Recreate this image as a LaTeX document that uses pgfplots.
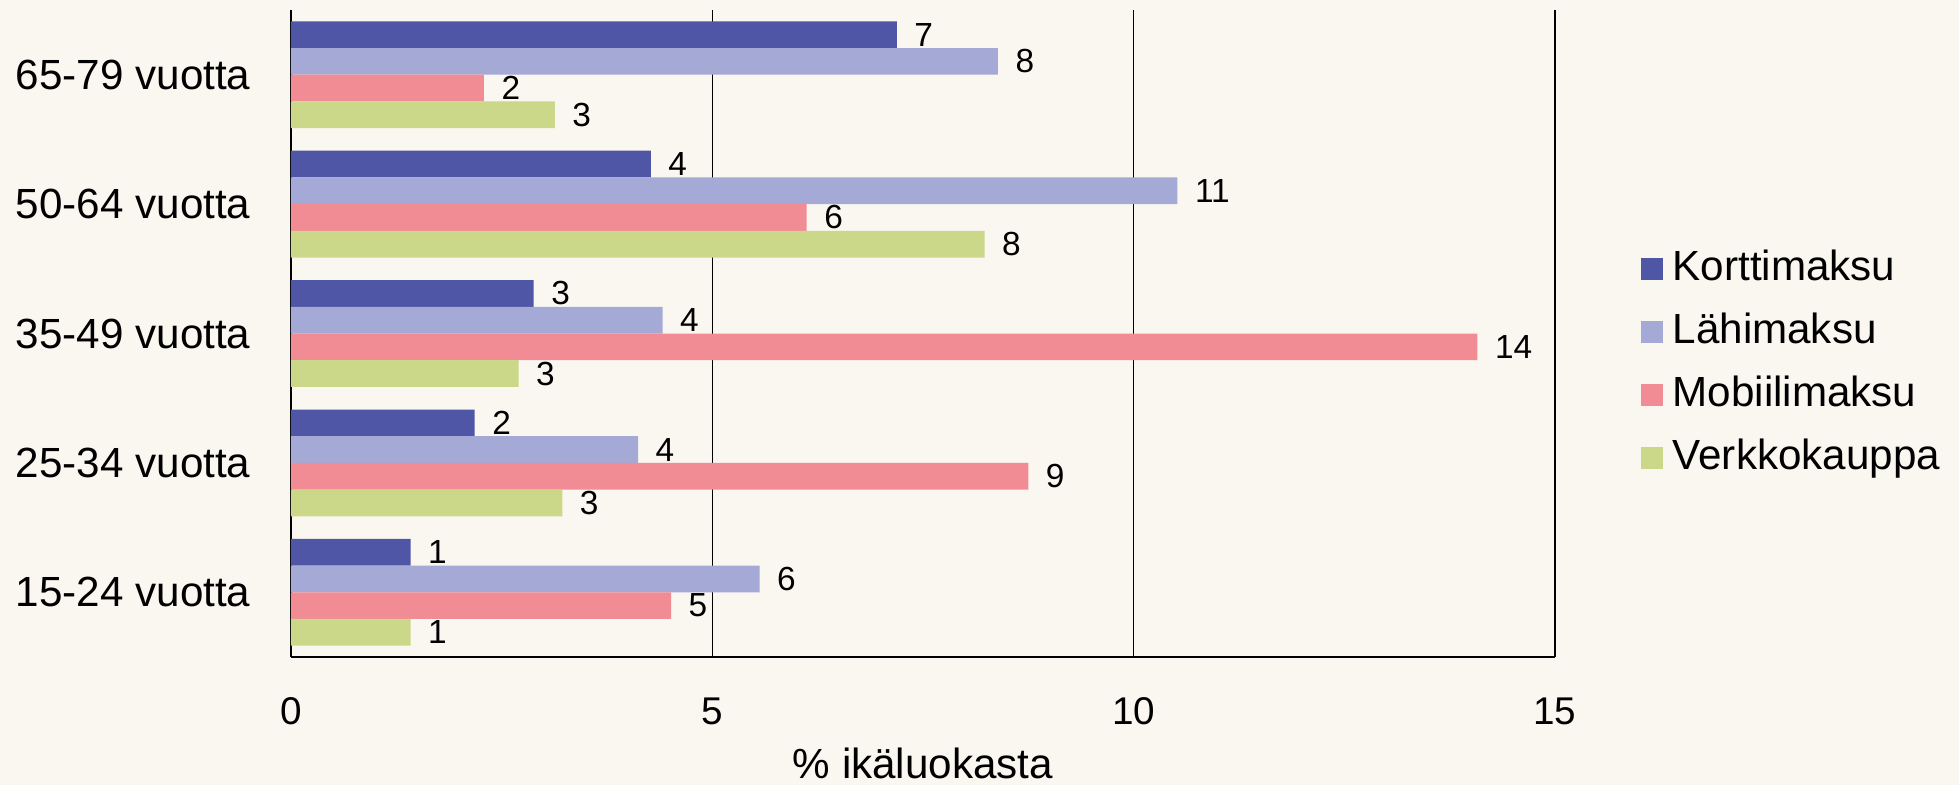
\documentclass[border=0pt]{standalone}
\usepackage{pgfplots}
\pgfplotsset{compat=1.18}
\usepackage{fontspec}
\setmainfont{Liberation Sans}
\definecolor{bg}{HTML}{FAF6F0}
\definecolor{cK}{HTML}{4E56A5}
\definecolor{cL}{HTML}{A4A9D6}
\definecolor{cM}{HTML}{F28C94}
\definecolor{cV}{HTML}{CBD789}
\pgfkeys{/pgf/number format/assume math mode=true}
\begin{document}
\begin{tikzpicture}
\fill[bg, use as bounding box] (-2.91cm,-1.28cm) rectangle (16.68cm,6.57cm);
\begin{axis}[
  at={(0,0)}, anchor=south west,
  scale only axis, width=12.64cm, height=6.47cm,
  xbar=0pt, bar width=0.267cm,
  xmin=0, xmax=15, ymin=-0.5, ymax=4.5,
  xtick={0,5,10,15},
  ytick={0,1,2,3,4},
  yticklabels={15-24 vuotta,25-34 vuotta,35-49 vuotta,50-64 vuotta,65-79 vuotta},
  axis x line*=bottom, axis y line*=left,
  axis line style={-, line width=0.6pt, black},
  xmajorgrids, major grid style={line width=0.3pt, black},
  major tick length=0pt,
  xticklabel style={font=\fontsize{11}{13}\selectfont, yshift=-8pt},
  yticklabel style={font=\fontsize{12}{14}\selectfont, xshift=-8pt},
  xlabel={\% ikäluokasta},
  xlabel style={font=\fontsize{12}{14}\selectfont, at={(axis description cs:0.5,0)}, anchor=center, inner sep=0pt, yshift=-10.6mm},
  nodes near coords={\pgfmathprintnumber[fixed,precision=0]{\pgfplotspointmeta}},
  point meta=x,
  every node near coord/.append style={font=\fontsize{9.5}{11}\selectfont, text=black, inner sep=0pt, anchor=west, xshift=4.8pt},
  legend style={draw=none, fill=none, at={(1,0.454)}, anchor=west, xshift=8.5mm,
    inner sep=0pt, font=\fontsize{12}{14}\selectfont, row sep=6.4pt,
    nodes={inner sep=0pt, text height=9pt, text depth=2.5pt}},
  legend cell align=left,
  legend image code/.code={\fill[#1] (0mm,-1.1mm) rectangle (2.2mm,1.1mm); \path (3.2mm,0);},
]
\addplot[fill=cK, draw=none, bar shift=0.4005cm] coordinates {(1.42,0) (2.18,1) (2.88,2) (4.27,3) (7.19,4)};
\addlegendentry{Korttimaksu}
\addplot[fill=cL, draw=none, bar shift=0.1335cm] coordinates {(5.56,0) (4.12,1) (4.41,2) (10.52,3) (8.39,4)};
\addlegendentry{Lähimaksu}
\addplot[fill=cM, draw=none, bar shift=-0.1335cm] coordinates {(4.51,0) (8.75,1) (14.08,2) (6.12,3) (2.29,4)};
\addlegendentry{Mobiilimaksu}
\addplot[fill=cV, draw=none, bar shift=-0.4005cm] coordinates {(1.42,0) (3.22,1) (2.70,2) (8.23,3) (3.13,4)};
\addlegendentry{Verkkokauppa}
\end{axis}
\end{tikzpicture}
\end{document}
